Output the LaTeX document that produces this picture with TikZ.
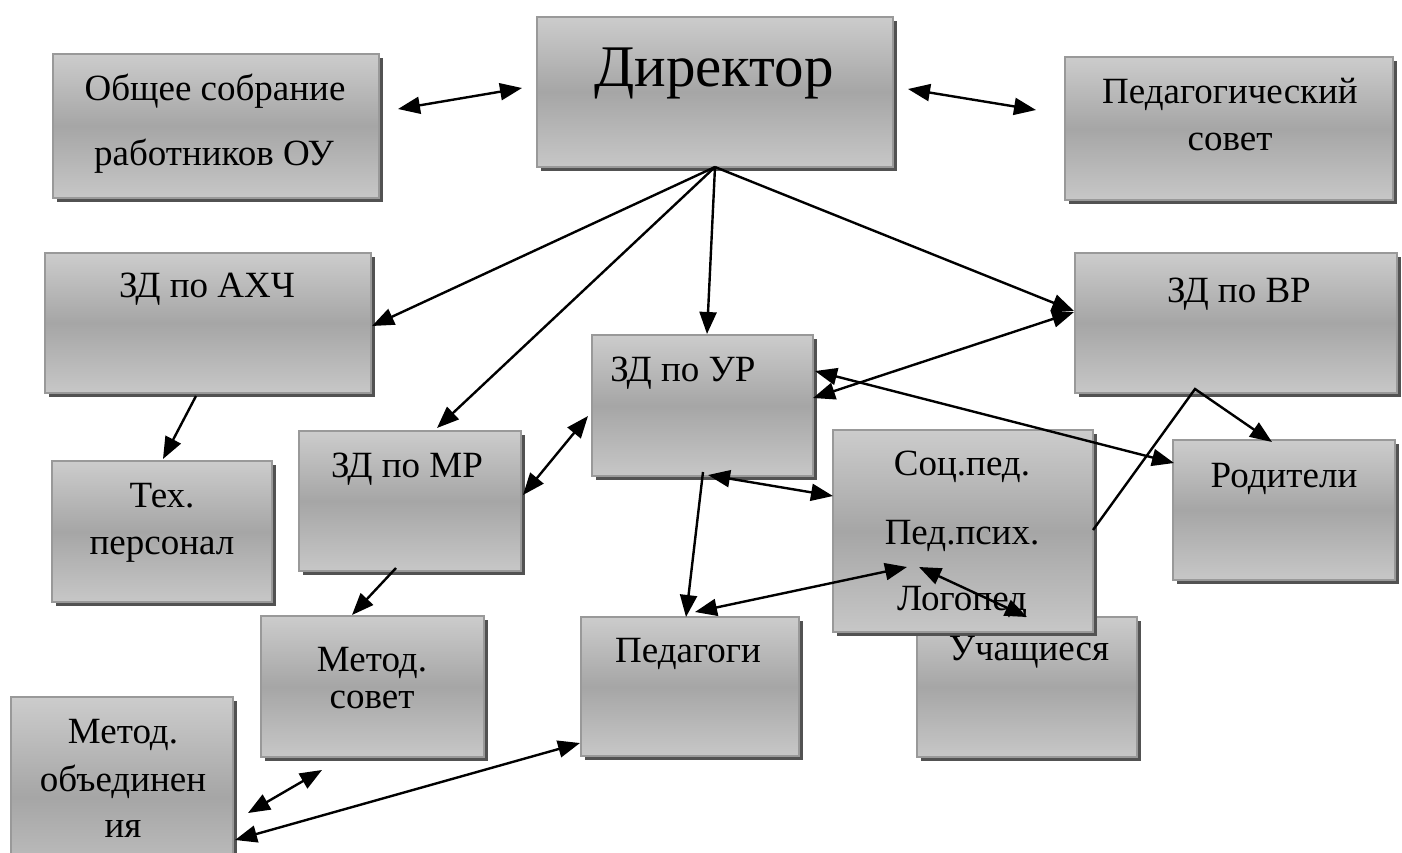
\documentclass[tikz,border=0pt]{standalone}
\usepackage{fontspec}
\setmainfont{Liberation Serif}
\newfontfamily\tnr{Liberation Serif}
\usetikzlibrary{arrows.meta,shadows}
\begin{document}
\begin{tikzpicture}[x=1pt,y=-1pt,
  box/.style={draw=black!40,line width=1.8pt,top color=black!20,bottom color=black!22,middle color=black!35,
    inner sep=0pt,outer sep=0pt,drop shadow={shadow xshift=4pt,shadow yshift=-4pt,fill=black!68,opacity=1}},
  txt/.style={font=\tnr\fontsize{37}{40}\selectfont,anchor=base,inner sep=0pt},
  bigtxt/.style={font=\tnr\fontsize{59}{64}\selectfont,anchor=base,inner sep=0pt},
  con/.style={line width=2.4pt,black},
  tip/.tip={Triangle[length=22pt,width=17pt]},
  arr/.style={con,-tip},
  darr/.style={con,tip-tip}]
\useasboundingbox (0,0) rectangle (1402,852);
\clip (0,0) rectangle (1402,852);
\fill[white] (0,0) rectangle (1402,852);
% boxes
\node[box,minimum width=356pt,minimum height=150pt] (dir) at (715,92) {};
\node[box,minimum width=326pt,minimum height=144pt] (obsh) at (216,126) {};
\node[box,minimum width=328pt,minimum height=143pt] (pedsov) at (1229,128.5) {};
\node[box,minimum width=326pt,minimum height=140pt] (ahch) at (208,323) {};
\node[box,minimum width=322pt,minimum height=140pt] (vr) at (1236,323) {};
\node[box,minimum width=221pt,minimum height=141pt] (ur) at (702.5,405.5) {};
\node[box,minimum width=220pt,minimum height=141pt] (teh) at (162,531.5) {};
\node[box,minimum width=222pt,minimum height=140pt] (mr) at (410,501) {};
\node[box,minimum width=222pt,minimum height=140pt] (rod) at (1284,510) {};
\node[box,minimum width=223pt,minimum height=141pt] (msov) at (372.5,686.5) {};
\node[box,minimum width=218pt,minimum height=139pt] (ped) at (690,686.5) {};
\node[box,minimum width=220pt,minimum height=140pt] (uch) at (1027,687) {};
\node[box,minimum width=260pt,minimum height=202pt] (soc) at (963,531) {};
\node[box,minimum width=222pt,minimum height=200pt] (mob) at (122,797) {};
% texts
\node[bigtxt] (tdir) at (714,86) {Директор};
\node[txt] (tobsh1) at (215,100) {Общее собрание};
\node[txt] (tobsh2) at (214,165) {работников ОУ};
\node[txt] (tped1) at (1230,103) {Педагогический};
\node[txt] (tped2) at (1230,150) {совет};
\node[txt] (tahch) at (207,297) {ЗД по АХЧ};
\node[txt] (tteh1) at (162,507) {Тех.};
\node[txt] (tteh2) at (162,554) {персонал};
\node[txt] (tmr) at (407,477) {ЗД по МР};
\node[txt] (tmsov1) at (372,671) {Метод.};
\node[txt] (tmsov2) at (372,708) {совет};
\node[txt] (tur) at (683,381) {ЗД по УР};
\node[txt] (tpedg) at (688,662) {Педагоги};
\node[txt] (tuch) at (1029,660) {Учащиеся};
\node[txt] (tsoc1) at (962,475) {Соц.пед.};
\node[txt] (tsoc2) at (962,544) {Пед.псих.};
\node[txt] (tsoc3) at (962,610) {Логопед};
\node[txt] (tvr) at (1239,302) {ЗД по ВР};
\node[txt] (trod) at (1284,487) {Родители};
\node[txt] (tmob1) at (123,743) {Метод.};
\node[txt] (tmob2) at (123,791) {объединен};
\node[txt] (tmob3) at (123,837) {ия};
% connector end points
\coordinate (hub) at (dir.south);
\coordinate (p1a) at (398,109); \coordinate (p1b) at (522,88);
\coordinate (p2a) at (908,89); \coordinate (p2b) at (1036,110);
\coordinate (pahch) at (372,326);
\coordinate (pmr) at (437,428);
\coordinate (pur) at (707,334);
\coordinate (pvr) at (1074,311);
\coordinate (pur2) at (813,398); \coordinate (pvr2) at (1074,312);
\coordinate (pur3) at (815,371); \coordinate (prod) at (1174,463);
\coordinate (psocr) at (1093,530); \coordinate (pvrb) at (1195,389); \coordinate (prod2) at (1272,442);
\coordinate (pahchb) at (196,396); \coordinate (ptehb) at (163,459);
\coordinate (pmr2) at (523,495); \coordinate (pur4) at (588,416);
\coordinate (pmrb) at (396,568); \coordinate (pmsov) at (352,615);
\coordinate (purb) at (703,472); \coordinate (pped) at (686,617);
\coordinate (purb2) at (708,475); \coordinate (psoc) at (833,496);
\coordinate (pped2) at (695,612); \coordinate (psoc2) at (907,567);
\coordinate (psoc3) at (919,567); \coordinate (puch) at (1027,617);
\coordinate (pmob) at (248,813); \coordinate (pmsov2) at (322,770);
\coordinate (pmob2) at (235,840); \coordinate (pped3) at (580,743);
% connectors
\draw[darr] (p1a) -- (p1b);
\draw[darr] (p2a) -- (p2b);
\draw[arr] (hub) -- (pahch);
\draw[arr] (hub) -- (pmr);
\draw[arr] (hub) -- (pur);
\draw[arr] (hub) -- (pvr);
\draw[darr] (pur2) -- (pvr2);
\draw[darr] (pur3) -- (prod);
\draw[arr] (psocr) -- (pvrb) -- (prod2);
\draw[arr] (pahchb) -- (ptehb);
\draw[darr] (pmr2) -- (pur4);
\draw[arr] (pmrb) -- (pmsov);
\draw[arr] (purb) -- (pped);
\draw[darr] (purb2) -- (psoc);
\draw[darr] (pped2) -- (psoc2);
\draw[darr] (psoc3) -- (puch);
\draw[darr] (pmob) -- (pmsov2);
\draw[darr] (pmob2) -- (pped3);
\end{tikzpicture}
\end{document}
